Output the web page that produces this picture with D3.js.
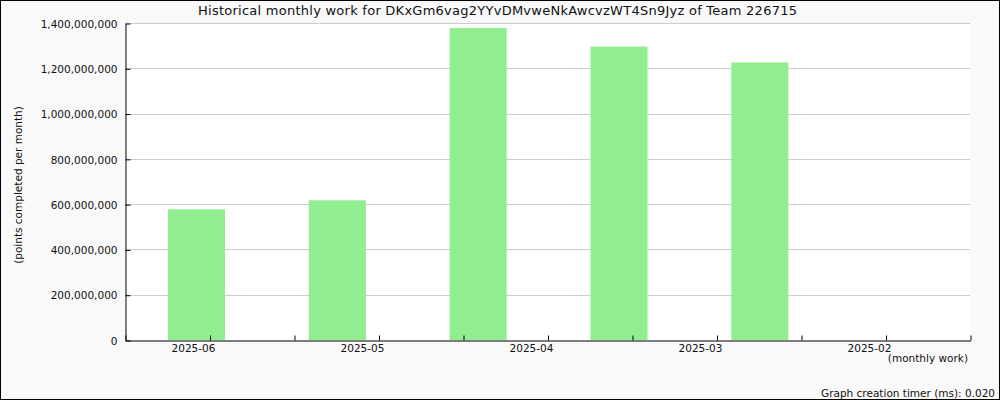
<!DOCTYPE html>
<html><head><meta charset="utf-8">
<script src="https://cdn.jsdelivr.net/npm/d3@7"></script>
<style>
html,body{margin:0;padding:0;background:#fff;}
svg{display:block;}
text{font-family:"DejaVu Sans",sans-serif;fill:#111;}
</style></head>
<body>
<svg id="chart" width="1000" height="400"></svg>
<script>
const title = "Historical monthly work for DKxGm6vag2YYvDMvweNkAwcvzWT4Sn9Jyz of Team 226715";
const yTitle = "(points completed per month)";
const xTitle = "(monthly work)";
const footer = "Graph creation timer (ms): 0.020";
const categories = ["2025-06","2025-05","2025-04","2025-03","2025-02","2025-01"];
const values = [577000000, 617000000, 1378000000, 1296000000, 1226000000, 0];
const tickLabels = ["2025-06","2025-05","2025-04","2025-03","2025-02"];
const yTicks = [0,200000000,400000000,600000000,800000000,1000000000,1200000000,1400000000];

const W = 1000, H = 400;
const m = {left:125, right:970, top:23, bottom:340};
const svg = d3.select("#chart");

svg.append("rect").attr("x",0.5).attr("y",0.5).attr("width",W-1).attr("height",H-1)
  .attr("fill","#f9f9f9").attr("stroke","#000");
svg.append("rect").attr("x",m.left).attr("y",m.top).attr("width",m.right-m.left).attr("height",m.bottom-m.top)
  .attr("fill","#fff");

const y = d3.scaleLinear().domain([0,1400000000]).range([m.bottom,m.top]);
const xb = d3.scaleBand().domain(categories).range([m.left,m.right])
  .paddingInner(0.595).paddingOuter(0.2975).align(0.513);
const xt = d3.scaleLinear().domain([0,10]).range([m.left,m.right]);

// grid
svg.append("g").selectAll("line").data(yTicks.filter(d=>d>0)).join("line")
  .attr("x1",m.left).attr("x2",m.right)
  .attr("y1",d=>Math.round(y(d))+0.5).attr("y2",d=>Math.round(y(d))+0.5)
  .attr("stroke","#cccccc").attr("stroke-width",1);

// bars
svg.append("g").selectAll("rect").data(values).join("rect")
  .attr("x",(d,i)=>xb(categories[i]))
  .attr("width",xb.bandwidth())
  .attr("y",d=>y(d))
  .attr("height",d=>m.bottom-y(d))
  .attr("fill","#90ee90");

// y axis
const yAxis = d3.axisLeft(y).tickValues(yTicks).tickSizeInner(-5).tickSizeOuter(0)
  .tickPadding(8).tickFormat(d3.format(","));
const gy = svg.append("g").attr("transform",`translate(${m.left+0.5},0.5)`).call(yAxis);
gy.select(".domain").attr("stroke","#000");
gy.selectAll(".tick line").attr("stroke","#000");
gy.selectAll("text").attr("font-size",10.5).attr("fill","#111").attr("font-family","DejaVu Sans").attr("dy","0.35em");

// x axis
const xAxis = d3.axisBottom(xt).tickValues(d3.range(0,11)).tickSizeInner(-5).tickSizeOuter(0).tickFormat("");
const gx = svg.append("g").attr("transform",`translate(0.5,${m.bottom+0.5})`).call(xAxis);
gx.select(".domain").attr("stroke","#000");
gx.selectAll(".tick line").attr("stroke","#000");
svg.append("g").selectAll("text").data(tickLabels).join("text")
  .attr("x",(d,i)=>xt(2*i+1)-16).attr("y",352)
  .attr("text-anchor","middle").attr("font-size",10.5).text(d=>d);

// titles
svg.append("text").attr("x",198).attr("y",15).attr("font-size",13)
  .attr("textLength",599).attr("lengthAdjust","spacing").text(title);
svg.append("text").attr("transform","translate(22,185) rotate(-90)").attr("text-anchor","middle").attr("font-size",10.5).text(yTitle);
svg.append("text").attr("x",968).attr("y",362).attr("text-anchor","end").attr("font-size",10.5).text(xTitle);
svg.append("text").attr("x",995).attr("y",397).attr("text-anchor","end").attr("font-size",10.5).text(footer);
</script>
</body></html>
